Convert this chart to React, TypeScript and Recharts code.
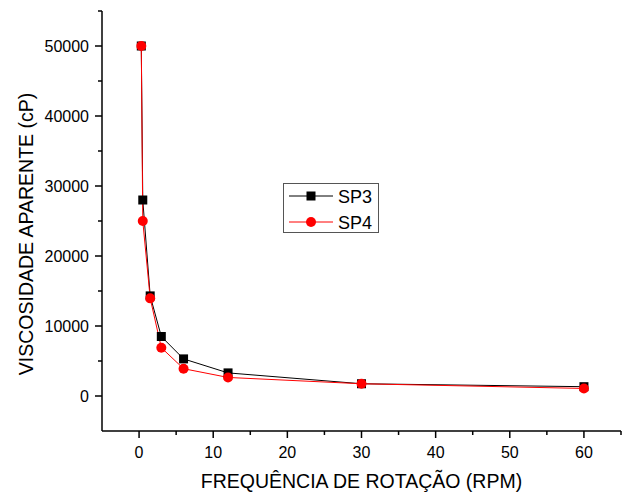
import { Line, LineChart, XAxis, YAxis } from "recharts";

const rpm = [0.3, 0.5, 1.5, 3, 6, 12, 30, 60];
const sp3 = [50000, 28000, 14300, 8500, 5300, 3300, 1750, 1330];
const sp4 = [50000, 25000, 13950, 6900, 3900, 2650, 1750, 1080];

const xTicks = [0, 5, 10, 15, 20, 25, 30, 35, 40, 45, 50, 55, 60, 65];
const xMajor = [0, 10, 20, 30, 40, 50, 60];
const yTicks = [0, 5000, 10000, 15000, 20000, 25000, 30000, 35000, 40000, 45000, 50000, 55000];
const yMajor = [0, 10000, 20000, 30000, 40000, 50000];

const data = rpm.map((x, i) => ({ x, sp3: sp3[i], sp4: sp4[i] }));

const FONT = "'Liberation Sans', Arial, sans-serif";

function XTick(props: any) {
  const { x, y, payload } = props;
  const major = xMajor.includes(payload.value);
  return (
    <g>
      <line x1={x} x2={x} y1={y} y2={y + (major ? 7 : 4)} stroke="#000" strokeWidth={1.5} />
      {major && (
        <text x={x} y={y + 27} textAnchor="middle" fontSize={16} fontFamily={FONT} fill="#000">
          {payload.value}
        </text>
      )}
    </g>
  );
}

function YTick(props: any) {
  const { x, y, payload } = props;
  const major = yMajor.includes(payload.value);
  return (
    <g>
      <line x1={x - (major ? 7 : 4)} x2={x} y1={y} y2={y} stroke="#000" strokeWidth={1.5} />
      {major && (
        <text x={x - 13} y={y + 5.5} textAnchor="end" fontSize={16} fontFamily={FONT} fill="#000">
          {payload.value}
        </text>
      )}
    </g>
  );
}

function SquareDot(props: any) {
  const { cx, cy, index } = props;
  return <rect key={`sq-${index}`} x={cx - 4.5} y={cy - 4.5} width={9} height={9} fill="#000" />;
}

function CircleDot(props: any) {
  const { cx, cy, index } = props;
  return <circle key={`ci-${index}`} cx={cx} cy={cy} r={5} fill="#ff0000" />;
}

function LegendBox() {
  return (
    <svg width={96} height={50} style={{ display: "block" }}>
      <rect x={0.5} y={0.5} width={95} height={49} fill="#fff" stroke="#555" strokeWidth={1} />
      <line x1={6} x2={50} y1={13} y2={13} stroke="#000" strokeWidth={1} />
      <rect x={23.5} y={8.5} width={9} height={9} fill="#000" />
      <text x={55} y={19.5} fontSize={18} fontFamily={FONT} fill="#000">SP3</text>
      <line x1={6} x2={50} y1={39} y2={39} stroke="#ff0000" strokeWidth={1} />
      <circle cx={28} cy={39} r={5} fill="#ff0000" />
      <text x={55} y={45.5} fontSize={18} fontFamily={FONT} fill="#000">SP4</text>
    </svg>
  );
}

export default function App() {
  return (
    <div style={{ position: "absolute", left: 0, top: 0, width: 624, height: 492, background: "#fff" }}>
      <LineChart width={624} height={492} data={data} margin={{ top: 11, right: 3, left: 0, bottom: 0 }}>
        <XAxis
          type="number"
          dataKey="x"
          domain={[-5, 65]}
          ticks={xTicks}
          allowDataOverflow
          height={61}
          tickSize={0}
          tickMargin={0}
          tickLine={false}
          tick={<XTick />}
          axisLine={{ stroke: "#000", strokeWidth: 1.5 }}
          interval={0}
          label={{
            content: () => (
              <text x={361.5} y={488} textAnchor="middle" fontSize={19.5} fontFamily={FONT} fill="#000">
                FREQUÊNCIA DE ROTAÇÃO (RPM)
              </text>
            ),
          }}
        />
        <YAxis
          type="number"
          domain={[-5000, 55000]}
          ticks={yTicks}
          allowDataOverflow
          width={102}
          tickSize={0}
          tickMargin={0}
          tickLine={false}
          tick={<YTick />}
          axisLine={{ stroke: "#000", strokeWidth: 1.5 }}
          interval={0}
          label={{
            content: () => (
              <text
                x={33}
                y={234}
                transform="rotate(-90 33 234)"
                textAnchor="middle"
                fontSize={19.5}
                fontFamily={FONT}
                fill="#000"
              >
                VISCOSIDADE APARENTE (cP)
              </text>
            ),
          }}
        />
        <Line
          dataKey="sp3"
          stroke="#000"
          strokeWidth={1}
          dot={<SquareDot />}
          activeDot={false}
          isAnimationActive={false}
        />
        <Line
          dataKey="sp4"
          stroke="#ff0000"
          strokeWidth={1}
          dot={<CircleDot />}
          activeDot={false}
          isAnimationActive={false}
        />
      </LineChart>
      <div style={{ position: "absolute", left: 283, top: 183 }}>
        <LegendBox />
      </div>
    </div>
  );
}
